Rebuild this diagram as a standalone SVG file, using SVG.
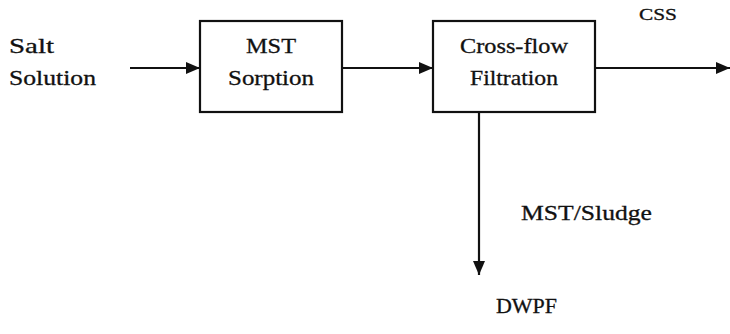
<svg xmlns="http://www.w3.org/2000/svg" width="730" height="334" viewBox="0 0 730 334">
<style>
text{font-family:"Liberation Serif","DejaVu Serif",serif;fill:#111;stroke:#111;stroke-width:0.3;}
.t{font-size:21px;}
.c{text-anchor:middle;}
.box{fill:#fff;stroke:#111;stroke-width:2.2;}
.ln{stroke:#111;stroke-width:2.2;fill:none;}
</style>
<defs>
<marker id="ah" viewBox="0 0 14 12" refX="14" refY="6" markerWidth="14" markerHeight="12" markerUnits="userSpaceOnUse" orient="auto">
<path d="M0,0 L14,6 L0,12 Z" fill="#111"/>
</marker>
</defs>
<g id="connectors">
<line class="ln" x1="130" y1="68" x2="200" y2="68" marker-end="url(#ah)"/>
<line class="ln" x1="342" y1="68" x2="433" y2="68" marker-end="url(#ah)"/>
<line class="ln" x1="595" y1="68" x2="730" y2="68" marker-end="url(#ah)"/>
<line class="ln" x1="479" y1="112" x2="479" y2="275" marker-end="url(#ah)"/>
</g>
<g id="salt">
<text class="t" x="9" y="53" textLength="45" lengthAdjust="spacingAndGlyphs">Salt</text>
<text class="t" x="9" y="85" textLength="87" lengthAdjust="spacingAndGlyphs">Solution</text>
</g>
<g id="mst">
<rect class="box" x="200" y="21" width="142" height="91"/>
<text class="t c" x="271" y="53" textLength="50" lengthAdjust="spacingAndGlyphs">MST</text>
<text class="t c" x="271" y="85" textLength="86" lengthAdjust="spacingAndGlyphs">Sorption</text>
</g>
<g id="crossflow">
<rect class="box" x="433" y="21" width="162" height="91"/>
<text class="t c" x="514" y="53" textLength="108" lengthAdjust="spacingAndGlyphs">Cross-flow</text>
<text class="t c" x="514" y="85" textLength="88" lengthAdjust="spacingAndGlyphs">Filtration</text>
</g>
<g id="css">
<text x="639" y="20" font-size="17" textLength="38" lengthAdjust="spacingAndGlyphs">CSS</text>
</g>
<g id="sludge">
<text class="t" x="521" y="220" textLength="131" lengthAdjust="spacingAndGlyphs">MST/Sludge</text>
</g>
<g id="dwpf">
<text class="t" x="496" y="313" textLength="61" lengthAdjust="spacingAndGlyphs">DWPF</text>
</g>
</svg>
